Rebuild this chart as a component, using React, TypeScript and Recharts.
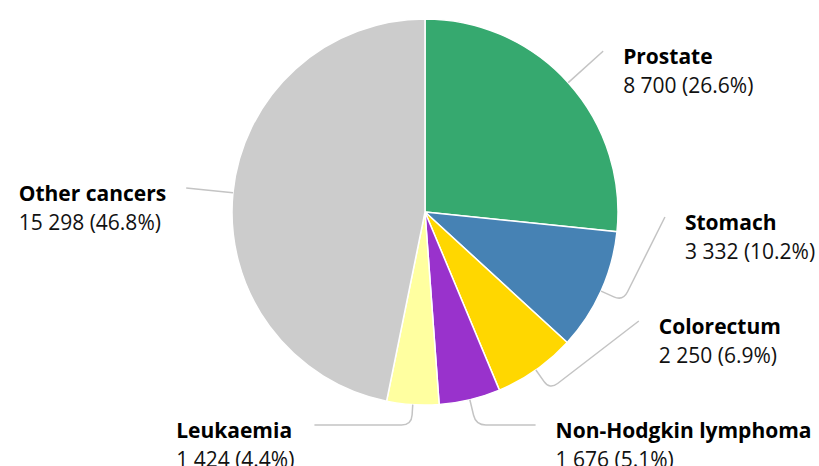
import React from "react";
import { PieChart, Pie, Cell } from "recharts";

const categories = [
  "Prostate",
  "Stomach",
  "Colorectum",
  "Non-Hodgkin lymphoma",
  "Leukaemia",
  "Other cancers",
];
const cases = [8700, 3332, 2250, 1676, 1424, 15298];
const colors = ["#36a96f", "#4682b4", "#ffd700", "#9932cc", "#ffffa0", "#cccccc"];

const total = cases.reduce((a, b) => a + b, 0);
const data = categories.map((name, i) => ({ name, value: cases[i] }));

const W = 819;
const H = 466;
const FONT = "'Open Sans', 'Noto Sans', sans-serif";
const FONT_SIZE = 21;
const LABEL_DIST = 47; // label ring = outerRadius + this
const LABEL_GAP = 104;
const BOTTOM_Y = H - 41;

const fmt = (n: number) => String(n).replace(/\B(?=(\d{3})+(?!\d))/g, " ");

let ctx: CanvasRenderingContext2D | null = null;
const textWidth = (s: string, bold: boolean) => {
  if (!ctx) ctx = document.createElement("canvas").getContext("2d");
  if (!ctx) return s.length * 10;
  ctx.font = `${bold ? "bold " : ""}${FONT_SIZE}px ${FONT}`;
  return ctx.measureText(s).width;
};

type LabelPos = { sx: number; sy: number; right: boolean; y: number; x: number };

// place labels on a ring round the pie, pushing crowded ones upwards
function layoutLabels(cx: number, cy: number, r: number): LabelPos[] {
  const R = r + LABEL_DIST;
  let acc = 0;
  const items: LabelPos[] = cases.map((v) => {
    const mid = ((acc + v / 2) / total) * Math.PI * 2;
    acc += v;
    const sx = Math.sin(mid);
    const sy = -Math.cos(mid);
    return { sx, sy, right: sx >= 0, y: cy + R * sy, x: 0 };
  });
  [true, false].forEach((side) => {
    const group = items.filter((it) => it.right === side).sort((a, b) => a.y - b.y);
    let next = BOTTOM_Y + LABEL_GAP;
    for (let k = group.length - 1; k >= 0; k--) {
      group[k].y = Math.min(group[k].y, next - LABEL_GAP);
      next = group[k].y;
    }
  });
  items.forEach((it) => {
    const dy = it.y - cy;
    const dx = Math.sqrt(Math.max(R * R - dy * dy, 0));
    it.x = it.right ? cx + dx : cx - dx;
  });
  return items;
}

const renderLabel = (props: any) => {
  const { cx, cy, outerRadius, index } = props;
  const pos = layoutLabels(Number(cx), Number(cy), Number(outerRadius))[index];
  const r = Number(outerRadius);
  const P = { x: cx + r * pos.sx, y: cy + r * pos.sy };
  let t = Math.abs(pos.sy) > 0.05 ? (pos.y - cy) / pos.sy : -1;
  if (t < r + 8 || t > r + 50) t = r + 24;
  const Q = { x: cx + t * pos.sx, y: cy + t * pos.sy };
  const A = { x: pos.x, y: pos.y };
  const rad = 10;
  const unit = (a: any, b: any) => {
    const d = Math.hypot(b.x - a.x, b.y - a.y) || 1;
    return { x: (b.x - a.x) / d, y: (b.y - a.y) / d, d };
  };
  const ua = unit(Q, A);
  const up = unit(Q, P);
  const ra = Math.min(rad, ua.d / 2, up.d / 2);
  const Q1 = { x: Q.x + ua.x * ra, y: Q.y + ua.y * ra };
  const Q2 = { x: Q.x + up.x * ra, y: Q.y + up.y * ra };
  const d = `M${A.x},${A.y}L${Q1.x},${Q1.y}Q${Q.x},${Q.y} ${Q2.x},${Q2.y}L${P.x},${P.y}`;

  const title = categories[index];
  const value = `${fmt(cases[index])} (${((cases[index] / total) * 100).toFixed(1)}%)`;
  let tx: number;
  if (pos.right) {
    tx = A.x + 20;
  } else {
    const bw = Math.max(textWidth(title, true), textWidth(value, false));
    tx = A.x - 20 - bw;
  }
  return (
    <g key={`lbl-${index}`}>
      <path d={d} fill="none" stroke="#c4c4c4" strokeWidth={1.5} />
      <text x={tx} y={A.y + 13} fontFamily={FONT} fontSize={FONT_SIZE} fontWeight="bold" fill="#000">
        {title}
      </text>
      <text x={tx} y={A.y + 42} fontFamily={FONT} fontSize={FONT_SIZE} fill="#111">
        {value}
      </text>
    </g>
  );
};

export default function App() {
  return (
    <div style={{ position: "absolute", left: 0, top: 0, width: W, height: H, background: "#fff" }}>
      <PieChart width={W} height={H} margin={{ top: 0, right: 0, bottom: 0, left: 0 }}>
        <Pie
          data={data}
          dataKey="value"
          nameKey="name"
          cx={425}
          cy={212}
          outerRadius={193}
          startAngle={90}
          endAngle={-270}
          stroke="#fff"
          strokeWidth={1.5}
          label={renderLabel}
          labelLine={false}
          isAnimationActive={false}
        >
          {data.map((d, i) => (
            <Cell key={d.name} fill={colors[i]} />
          ))}
        </Pie>
      </PieChart>
    </div>
  );
}
